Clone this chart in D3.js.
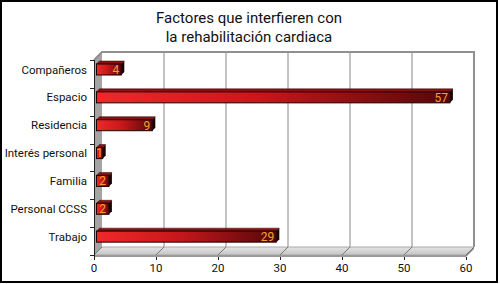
<!DOCTYPE html>
<html>
<head>
<meta charset="utf-8">
<script src="https://cdn.jsdelivr.net/npm/d3@7"></script>
<style>
  html, body { margin: 0; padding: 0; background: #fff; }
  svg { display: block; font-family: Roboto, "Open Sans", sans-serif; }
</style>
</head>
<body>
<svg id="chart" width="500" height="284"></svg>
<script>
// data
let titleLines = ["Factores que interfieren con", "la rehabilitación cardiaca"];
let categories = ["Compañeros", "Espacio", "Residencia", "Interés personal", "Familia", "Personal CCSS", "Trabajo"];
let values     = [4, 57, 9, 1, 2, 2, 29];
let xTicks     = [0, 10, 20, 30, 40, 50, 60];

// layout of the 3d box
let front = {left: 94, right: 466, top: 60, bottom: 255},
    depth = {dx: 8, dy: -8},
    bar   = {dx: 3, dy: -3, h: 11, off: 4, shift: 2.5};

let svg = d3.select("#chart");

let x = d3.scaleLinear().domain([0, 60]).range([front.left, front.right]),
    y = d3.scaleBand().domain(categories).range([front.top, front.bottom]);

// gradient for the bars
let defs = svg.append("defs");
let grad = defs.append("linearGradient").attr("id", "barGrad")
    .attr("x1", 0).attr("x2", 1).attr("y1", 0).attr("y2", 0);
grad.append("stop").attr("offset", "0%").attr("stop-color", "#f0282a");
grad.append("stop").attr("offset", "45%").attr("stop-color", "#c8181c");
grad.append("stop").attr("offset", "100%").attr("stop-color", "#55070a");

let floorGrad = defs.append("linearGradient").attr("id", "floorGrad")
    .attr("x1", 0).attr("x2", 0).attr("y1", 0).attr("y2", 1);
floorGrad.append("stop").attr("offset", "0%").attr("stop-color", "#e4e4e4");
floorGrad.append("stop").attr("offset", "100%").attr("stop-color", "#c4c4c4");

// outer frame
svg.append("rect")
    .attr("x", 1).attr("y", 1).attr("width", 496).attr("height", 281)
    .attr("fill", "#fff").attr("stroke", "#000").attr("stroke-width", 2);

// title
svg.append("g").selectAll("text")
    .data(titleLines)
    .join("text")
    .attr("x", 249)
    .attr("y", (d, i) => 23 + i * 19)
    .attr("text-anchor", "middle")
    .attr("font-size", 15)
    .attr("fill", "#111")
    .text(d => d);

let bx0 = front.left + depth.dx, bx1 = front.right + depth.dx,
    by0 = front.top + depth.dy,  by1 = front.bottom + depth.dy;

// left wall
svg.append("polygon")
    .attr("points", [[front.left, front.top], [bx0, by0], [bx0, by1], [front.left, front.bottom]].join(" "))
    .attr("fill", "#a4a4a4");

// back wall
svg.append("rect")
    .attr("x", bx0).attr("y", by0).attr("width", bx1 - bx0).attr("height", by1 - by0)
    .attr("fill", "#fff");

// back wall gridlines
svg.append("g").selectAll("line")
    .data(xTicks.slice(1))
    .join("line")
    .attr("x1", d => x(d) + depth.dx).attr("x2", d => x(d) + depth.dx)
    .attr("y1", by0).attr("y2", by1)
    .attr("stroke", "#888").attr("stroke-width", 1);

// wall outline top + right
svg.append("path")
    .attr("d", `M${front.left},${front.top} L${bx0},${by0} L${bx1},${by0} L${bx1},${by1}`)
    .attr("fill", "none").attr("stroke", "#909090").attr("stroke-width", 2);

// floor
svg.append("polygon")
    .attr("points", [[front.left, front.bottom], [bx0, by1], [bx1, by1], [front.right, front.bottom]].join(" "))
    .attr("fill", "url(#floorGrad)").attr("stroke", "#a8a8a8").attr("stroke-width", 1);
svg.append("rect")
    .attr("x", front.left).attr("y", front.bottom).attr("width", front.right - front.left).attr("height", 2)
    .attr("fill", "#9a9a9a");
svg.append("polygon")
    .attr("points", [[front.right, front.bottom], [bx1, by1], [bx1, by1 + 2], [front.right, front.bottom + 2]].join(" "))
    .attr("fill", "#8a8a8a");

// floor gridlines
svg.append("g").selectAll("line")
    .data(xTicks)
    .join("line")
    .attr("x1", d => x(d)).attr("y1", front.bottom)
    .attr("x2", d => x(d) + depth.dx).attr("y2", by1)
    .attr("stroke", "#777").attr("stroke-width", 1);

// y axis
svg.append("line")
    .attr("x1", front.left + 0.5).attr("x2", front.left + 0.5)
    .attr("y1", front.top).attr("y2", front.bottom + 3)
    .attr("stroke", "#222");
let bounds = categories.map(c => y(c)).concat([front.bottom]);
svg.append("g").selectAll("line")
    .data(bounds)
    .join("line")
    .attr("x1", front.left - 4).attr("x2", front.left)
    .attr("y1", d => Math.round(d) + 0.5).attr("y2", d => Math.round(d) + 0.5)
    .attr("stroke", "#222");

// category labels
svg.append("g").selectAll("text")
    .data(categories)
    .join("text")
    .attr("x", front.left - 7)
    .attr("y", d => y(d) + bar.off + bar.h / 2)
    .attr("dy", "0.35em")
    .attr("text-anchor", "end")
    .attr("font-size", 11.5)
    .attr("fill", "#111")
    .text(d => d);

// x axis ticks + labels
svg.append("g").selectAll("line")
    .data(xTicks)
    .join("line")
    .attr("x1", d => x(d) + 0.5).attr("x2", d => x(d) + 0.5)
    .attr("y1", front.bottom + 2).attr("y2", front.bottom + 5)
    .attr("stroke", "#222");
svg.append("g").selectAll("text")
    .data(xTicks)
    .join("text")
    .attr("x", d => x(d))
    .attr("y", 272)
    .attr("text-anchor", "middle")
    .attr("font-size", 11.5)
    .attr("fill", "#111")
    .text(d => d);

// bars
let data = categories.map((c, i) => ({cat: c, val: values[i]}));
let bars = svg.append("g").selectAll("g")
    .data(data)
    .join("g");

function fx0() { return x(0) + bar.shift; }
function fx1(d) { return x(d.val) + bar.shift; }
function fy0(d) { return y(d.cat) + bar.off; }

// top face
bars.append("polygon")
    .attr("points", d => [[fx0(), fy0(d)], [fx0() + bar.dx, fy0(d) + bar.dy],
                          [fx1(d) + bar.dx, fy0(d) + bar.dy], [fx1(d), fy0(d)]].join(" "))
    .attr("fill", "#8a1012").attr("stroke", "#300").attr("stroke-width", 0.5);
// end face
bars.append("polygon")
    .attr("points", d => [[fx1(d), fy0(d)], [fx1(d) + bar.dx, fy0(d) + bar.dy],
                          [fx1(d) + bar.dx, fy0(d) + bar.dy + bar.h], [fx1(d), fy0(d) + bar.h]].join(" "))
    .attr("fill", "#1a0202");
// front face
bars.append("rect")
    .attr("x", fx0())
    .attr("y", d => fy0(d))
    .attr("width", d => fx1(d) - fx0())
    .attr("height", bar.h)
    .attr("fill", "url(#barGrad)")
    .attr("stroke", "#1a0000").attr("stroke-width", 1);

// value labels
bars.append("text")
    .attr("x", d => d.val < 3 ? (fx0() + fx1(d)) / 2 : fx1(d) - 2)
    .attr("y", d => fy0(d) + bar.h / 2)
    .attr("dy", "0.36em")
    .attr("text-anchor", d => d.val < 3 ? "middle" : "end")
    .attr("font-size", 12)
    .attr("fill", "#f3a32a")
    .text(d => d.val);
</script>
</body>
</html>
